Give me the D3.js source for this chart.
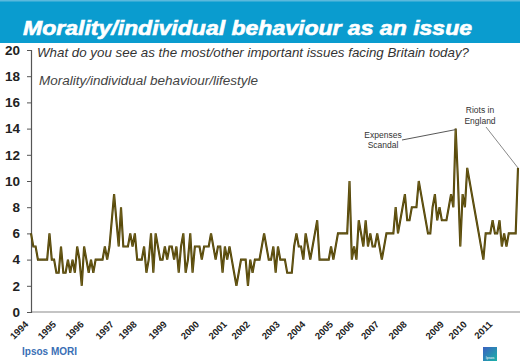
<!DOCTYPE html>
<html><head><meta charset="utf-8">
<script src="https://cdn.jsdelivr.net/npm/d3@7/dist/d3.min.js"></script>
<style>
html,body{margin:0;padding:0;background:#fff;}
svg{display:block;font-family:"Liberation Sans",Arial,sans-serif;}
</style></head>
<body><svg id="c" width="520" height="364"></svg>
<script>
const values = [
6,5,5,4,4,4,4,4,6,4,
4,3,3,5,3,3,4,3,4,3,
5,4,2,5,4,3,4,3,4,4,
4,4,5,4,5,7,9,7,5,8,
5,5,5,6,5,6,4,4,4,5,
3,4,6,3,6,5,4,4,5,4,
5,5,4,5,3,5,6,3,4,6,
3,5,5,5,4,5,5,5,6,5,
4,5,5,3,5,4,5,4,3,2,
3,4,4,4,2,4,3,4,4,4,
5,6,5,4,4,5,3,5,4,4,
4,3,3,3,5,6,5,5,4,6,
5,4,5,6,7,4,4,4,4,4,
5,4,5,6,6,6,6,6,10,4,
5,4,7,6,5,7,5,6,5,5,
6,5,4,5,6,6,6,6,8,6,
7,8,9,7,7,8,8,8,10,9,
8,7,6,6,8,9,7,8,7,7,
7,8,9,8,14,10,5,9,8,11,
10,9,8,7,6,5,4,6,6,6,
7,6,6,7,5,6,5,6,6,6,
6,11];
const yearLabels = ["1994","1995","1996","1997","1998","1999","2000","2001","2002","2003","2004","2005","2006","2007","2008","2009","2010","2011"];
const yearIndex  = [0,12,24,37,47,60,74,86,96,109,120,132,141,152,164,180,190,201];
const yTicks = [0,2,4,6,8,10,12,14,16,18,20];
const titleText = "Morality/individual behaviour as an issue";
const questionText = "What do you see as the most/other important issues facing Britain today?";
const seriesName = "Morality/individual behaviour/lifestyle";
const annotations = [
  {idx:184, lines:["Expenses","Scandal"]},
  {idx:211, lines:["Riots in","England"]}
];

const svg = d3.select("#c");
const W = 520, H = 364;

// title bar
svg.append("rect").attr("x",0).attr("y",0).attr("width",W).attr("height",43).attr("fill","#0a9ccf");
svg.append("rect").attr("x",0).attr("y",0).attr("width",W).attr("height",1.5).attr("fill","#5bb9dd");
svg.append("text").attr("x",23).attr("y",35)
  .attr("fill","#fff").attr("font-size",19.5).attr("font-weight","bold").attr("font-style","italic")
  .attr("stroke","#fff").attr("stroke-width",0.6)
  .attr("textLength",449).attr("lengthAdjust","spacingAndGlyphs")
  .text(titleText);

const x = d3.scaleLinear().domain([0, values.length-1]).range([31, 518]);
const y = d3.scaleLinear().domain([0, 20]).range([312, 50]);

// x axis baseline
svg.append("line").attr("x1",31).attr("x2",520).attr("y1",y(0)).attr("y2",y(0))
  .attr("stroke","#b0b0b0").attr("stroke-width",1.5);

// y axis
const yAxis = d3.axisLeft(y).tickValues(yTicks).tickSize(4).tickPadding(7).tickFormat(d3.format("d"));
const ga = svg.append("g").attr("transform","translate(31,0)").call(yAxis);
ga.select(".domain").attr("stroke","#555").attr("stroke-width",1.2);
ga.selectAll(".tick line").attr("stroke","#555");
ga.selectAll(".tick text").attr("font-size",13.5).attr("font-weight","bold").attr("fill","#222")
  .attr("font-family","'Liberation Sans',Arial,sans-serif");

// x labels
svg.append("g").selectAll("text").data(yearLabels).join("text")
  .attr("transform",(d,i)=>`translate(${x(yearIndex[i])-2},${y(0)+13}) rotate(-45)`)
  .attr("text-anchor","end").attr("font-size",9.5).attr("font-weight","bold").attr("fill","#222")
  .text(d=>d);

// question + series labels
svg.append("text").attr("x",37).attr("y",57).attr("font-size",13).attr("font-style","italic").attr("fill","#333")
  .attr("textLength",432).attr("lengthAdjust","spacingAndGlyphs").text(questionText);
svg.append("text").attr("x",39).attr("y",85).attr("font-size",12).attr("font-style","italic").attr("fill","#444")
  .attr("textLength",219).attr("lengthAdjust","spacingAndGlyphs").text(seriesName);

// line
const line = d3.line().x((d,i)=>x(i)).y(d=>y(d));
svg.append("path").datum(values).attr("d",line).attr("fill","none")
  .attr("stroke","#4a3c00").attr("stroke-width",2.1).attr("stroke-linejoin","miter");
svg.append("path").datum(values).attr("d",line).attr("fill","none")
  .attr("stroke","#8a7a30").attr("stroke-width",0.5).attr("stroke-linejoin","miter");

// annotations
const a1 = annotations[0], a2 = annotations[1];
const g1 = svg.append("text").attr("text-anchor","middle").attr("font-size",8.5).attr("fill","#333");
g1.append("tspan").attr("x",383).attr("y",138).text(a1.lines[0]);
g1.append("tspan").attr("x",383).attr("y",148).text(a1.lines[1]);
svg.append("line").attr("x1",402).attr("y1",140).attr("x2",x(a1.idx)).attr("y2",y(values[a1.idx])+1).attr("stroke","#444").attr("stroke-width",0.9);
const g2 = svg.append("text").attr("text-anchor","middle").attr("font-size",8.5).attr("fill","#333");
g2.append("tspan").attr("x",480).attr("y",113).text(a2.lines[0]);
g2.append("tspan").attr("x",480).attr("y",124).text(a2.lines[1]);
svg.append("line").attr("x1",486).attr("y1",127).attr("x2",x(a2.idx)).attr("y2",y(values[a2.idx])).attr("stroke","#555").attr("stroke-width",0.7);

// footer
svg.append("text").attr("x",22).attr("y",355).attr("font-size",10).attr("font-weight","bold").attr("fill","#3a6fb5").text("Ipsos MORI");
const defs = svg.append("defs");
const lg = defs.append("linearGradient").attr("id","lg").attr("x1","0").attr("y1","0").attr("x2","1").attr("y2","1");
lg.append("stop").attr("offset","0").attr("stop-color","#3b5fc0");
lg.append("stop").attr("offset","1").attr("stop-color","#19b3a8");
svg.append("rect").attr("x",483).attr("y",347).attr("width",14).attr("height",14).attr("fill","url(#lg)");
svg.append("text").attr("x",490).attr("y",359).attr("text-anchor","middle").attr("font-size",3.5).attr("fill","#fff").text("Ipsos");
</script></body></html>
